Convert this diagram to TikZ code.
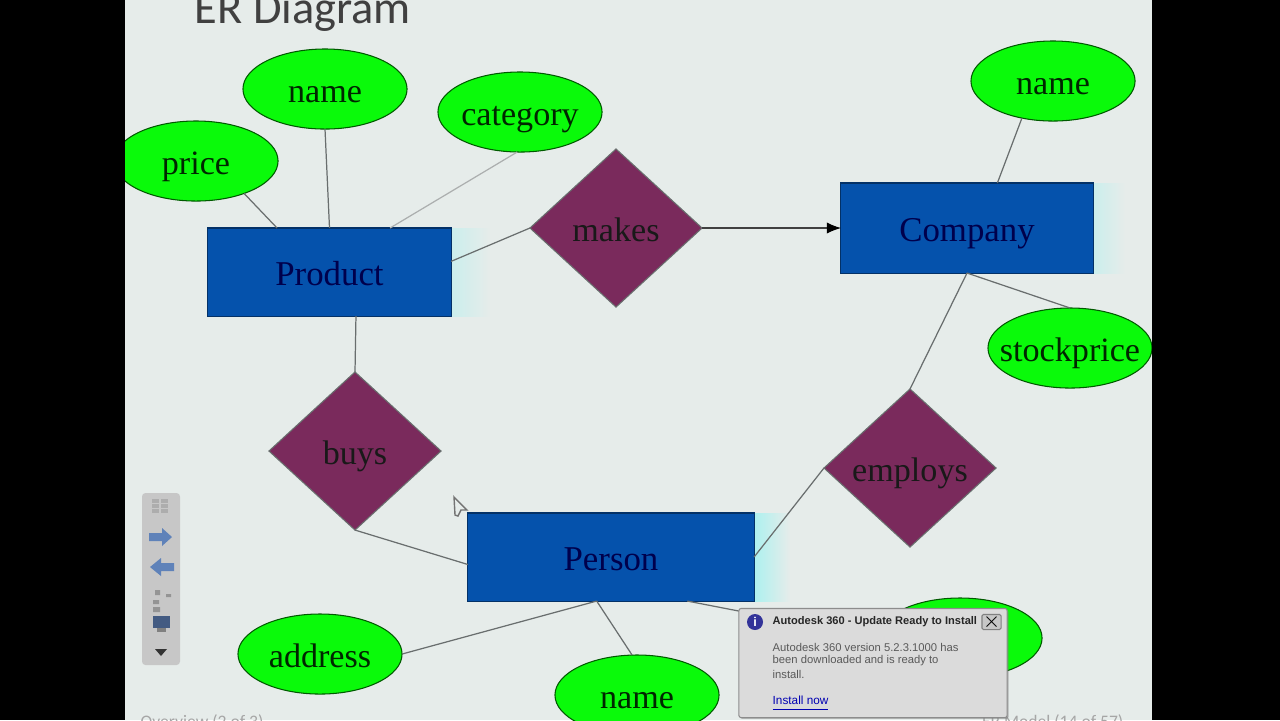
\documentclass[tikz,border=0pt]{standalone}
\usepackage{fontspec}
\setmainfont{Liberation Serif}
\newfontfamily\titlefont{Carlito}
\newfontfamily\popupfont{Liberation Sans}
\usetikzlibrary{%
    arrows.meta,
    shadows,
    shapes.geometric
}
\definecolor{slidebg}{RGB}{230,236,234}
\definecolor{attrgreen}{RGB}{10,250,10}
\definecolor{entityblue}{RGB}{5,82,172}
\definecolor{relplum}{RGB}{122,42,92}
\definecolor{linegray}{RGB}{105,110,110}
\definecolor{toolblue}{RGB}{95,130,185}
\tikzset{
    attr/.style={ellipse, draw=green!35!black, line width=.3pt, fill=attrgreen, text=green!15!black,
        minimum width=1.64cm, minimum height=.8cm, inner xsep=-12pt, inner ysep=0pt, outer sep=0pt,
        text height=7.4pt, text depth=0pt, font=\fontsize{9.7}{11}\selectfont},
    entity/.style={rectangle, draw=entityblue!60!black, line width=.3pt, fill=entityblue, text=blue!30!black,
        inner sep=0pt, outer sep=0pt, text height=7.4pt, text depth=0pt, font=\fontsize{9.9}{12}\selectfont},
    rel/.style={diamond, draw=linegray, line width=.3pt, fill=relplum, text=black!90,
        minimum width=1.72cm, minimum height=1.58cm, inner sep=0pt, outer sep=0pt,
        text height=7.4pt, text depth=0pt, font=\fontsize{9.7}{11}\selectfont},
    link/.style={draw=linegray, line width=.35pt},
    glow/.style={left color=cyan!12!slidebg, right color=slidebg, draw=none},
    popuptext/.style={inner sep=0pt, anchor=west, text=black!65, font=\popupfont\fontsize{3.2}{4}\selectfont}
}

\begin{document}
\begin{tikzpicture}[x=.01cm, y=-.01cm]
    \clip (0,0) rectangle (1280,720);
    \fill[slidebg] (0,0) rectangle (1280,720);

    \node[inner sep=0pt, anchor=base west, text=black!75, font=\titlefont\fontsize{13.2}{15}\selectfont]
        (title) at (194,23) {ER Diagram};
    \node[inner sep=0pt, anchor=base west, text=black!35, font=\titlefont\fontsize{5}{6}\selectfont]
        (sectionmark) at (140,727) {Overview (2 of 3)};
    \node[inner sep=0pt, anchor=base east, text=black!35, font=\titlefont\fontsize{5}{6}\selectfont]
        (pagemark) at (1124,727) {ER Model (14 of 57)};

    % fading edge right of the boxes
    \shade[glow] (451,228) rectangle (490,316);
    \shade[glow] (1093,183) rectangle (1125,273);
    \shade[left color=cyan!25!slidebg, right color=slidebg, draw=none] (754,513) rectangle (790,601);

    \node[entity, minimum width=2.43cm, minimum height=.88cm] (product) at (329.5,272) {Product};
    \node[entity, minimum width=2.52cm, minimum height=.9cm]  (company) at (967,228)   {Company};
    \node[entity, minimum width=2.86cm, minimum height=.88cm] (person)  at (611,557)   {Person};

    \node[rel] (makes)   at (616,228) {makes};
    \node[rel] (buys)    at (355,451) {buys};
    \node[rel] (employs) at (910,468) {employs};

    \node[attr] (price)       at (196,161)  {price};
    \node[attr] (prodname)    at (325,89)   {name};
    \node[attr] (category)    at (520,112)  {category};
    \node[attr] (compname)    at (1053,81)  {name};
    \node[attr] (stockprice)  at (1070,348) {stockprice};
    \node[attr] (address)     at (320,654)  {address};
    \node[attr] (persname)    at (637,695)  {name};
    \node[attr] (hiddenattr)  at (960,638)  {};

    \foreach \Source/\Target in {price.-34/product.140, prodname.south/product.north,
        product.5/makes.west, product.-59/buys.north, buys.south/person.183,
        person.east/employs.west, employs.north/company.south, compname.230/company.56,
        company.south/stockprice.north, person.-108/address.east, person.-108/persname.97,
        person.-30/hiddenattr.west}
        \draw[link] (\Source) to (\Target);
    \draw[link, draw=linegray!55] (category.266) to (product.36);
    \draw[black!75, line width=.3pt, -{Latex[length=4pt, width=3.2pt, black]}] (makes.east) to (company.west);

    % slide show toolbar
    \fill[rounded corners=1pt, black!22] (142,493) rectangle (180,665);
    \foreach \Row in {501,506,511}
        \draw[black!32, line width=1pt, dash pattern=on 2pt off .6pt] (152,\Row) -- (170,\Row);
    \fill[toolblue] (149,533) -- (162,533) -- (162,528) -- (172,537) -- (162,546) -- (162,541) -- (149,541) -- cycle;
    \fill[toolblue] (174,563) -- (161,563) -- (161,558) -- (150,567) -- (161,576) -- (161,571) -- (174,571) -- cycle;
    \fill[black!42] (155,590) rectangle (160,595) (153,600) rectangle (159,604) (166,594) rectangle (171,597) (153,607) rectangle (160,612);
    \fill[toolblue!70!black] (153,616) rectangle (170,628);
    \fill[black!50] (157,628) rectangle (166,632);
    \fill[black!80] (155,649) -- (167,649) -- (161,656) -- cycle;

    % mouse pointer
    \draw[black!55, fill=slidebg, line width=.4pt] (454,497) -- (467,510) -- (461,510) -- (458,516) -- (455,515) -- cycle;

    % notice
    \node[rectangle, rounded corners=.6pt, draw=black!45, line width=.3pt, fill=black!14, drop shadow={shadow xshift=.4pt, shadow yshift=-.4pt},
        minimum width=2.68cm, minimum height=1.09cm, inner sep=0pt] (popup) at (873,663) {};
    \node[circle, fill=blue!50!black!80, text=white, inner sep=0pt, minimum size=.16cm, font=\popupfont\bfseries\fontsize{3.6}{4}\selectfont]
        (infomark) at (755,622) {i};
    \node[popuptext, text=black!85, font=\popupfont\bfseries\fontsize{3.15}{4}\selectfont] (popuphead) at (772,622) {Autodesk 360 - Update Ready to Install};
    \node[popuptext] (popupa) at (772,647.5) {Autodesk 360 version 5.2.3.1000 has};
    \node[popuptext] (popupb) at (772,661)   {been downloaded and is ready to};
    \node[popuptext] (popupc) at (772,674.5) {install.};
    \node[popuptext, text=blue!70!black, font=\popupfont\fontsize{3.35}{4}\selectfont] (popuplink) at (772,704) {\underline{Install now}};
    \node[rectangle, draw=black!50, fill=black!22, rounded corners=.4pt, line width=.3pt, minimum size=.15cm, inner sep=0pt, font=\popupfont\bfseries\fontsize{3.4}{4}\selectfont]
        (popupclose) at (991.5,622) {$\times$};

    % black bars
    \fill[black] (0,0) rectangle (125,720);
    \fill[black] (1152,0) rectangle (1280,720);
\end{tikzpicture}
\end{document}
